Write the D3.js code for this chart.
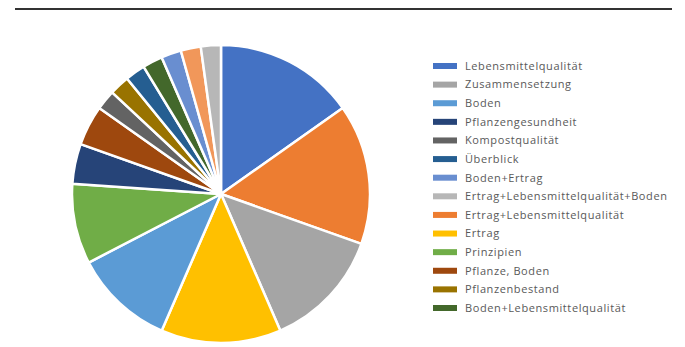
<!DOCTYPE html>
<html>
<head>
<meta charset="utf-8">
<script src="https://cdn.jsdelivr.net/npm/d3@7"></script>
<style>
  html, body { margin: 0; padding: 0; background: #fff; }
  svg { display: block; }
</style>
</head>
<body>
<svg id="chart" width="685" height="347"></svg>
<script>
// Slices in clockwise order starting at 12 o'clock
const sliceLabels = [
  "Lebensmittelqualität", "Ertrag+Lebensmittelqualität", "Zusammensetzung", "Ertrag",
  "Boden", "Prinzipien", "Pflanzengesundheit", "Pflanze, Boden", "Kompostqualität",
  "Pflanzenbestand", "Überblick", "Boden+Lebensmittelqualität", "Boden+Ertrag",
  "(ohne Angabe)", "Ertrag+Lebensmittelqualität+Boden"
];
const sliceValues = [7, 7, 6, 6, 5, 4, 2, 2, 1, 1, 1, 1, 1, 1, 1];
const sliceColors = [
  "#4472C4", "#ED7D31", "#A5A5A5", "#FFC000", "#5B9BD5", "#70AD47",
  "#264478", "#9E480E", "#636363", "#997300", "#255E91", "#43682B",
  "#698ED0", "#F1975A", "#B7B7B7"
];
// Legend order as shown in the reference
const legendLabels = [
  "Lebensmittelqualität", "Zusammensetzung", "Boden", "Pflanzengesundheit",
  "Kompostqualität", "Überblick", "Boden+Ertrag", "Ertrag+Lebensmittelqualität+Boden",
  "Ertrag+Lebensmittelqualität", "Ertrag", "Prinzipien", "Pflanze, Boden",
  "Pflanzenbestand", "Boden+Lebensmittelqualität"
];

const svg = d3.select("#chart");
const color = d3.scaleOrdinal().domain(sliceLabels).range(sliceColors);

// top rule
svg.append("line")
  .attr("x1", 15).attr("x2", 672).attr("y1", 9).attr("y2", 9)
  .attr("stroke", "#333").attr("stroke-width", 2);

const cx = 221, cy = 194, r = 149;
const pie = d3.pie().sort(null).value(d => d.v);
const data = sliceLabels.map((l, i) => ({ label: l, v: sliceValues[i] }));
const arc = d3.arc().innerRadius(0).outerRadius(r);

svg.append("g")
  .attr("transform", `translate(${cx},${cy})`)
  .selectAll("path")
  .data(pie(data))
  .join("path")
  .attr("d", arc)
  .attr("fill", d => color(d.data.label))
  .attr("stroke", "#fff")
  .attr("stroke-width", 2.5)
  .attr("stroke-linejoin", "round");

// legend
const ly = d3.scalePoint().domain(legendLabels).range([66, 308]);
const lg = svg.append("g");
const items = lg.selectAll("g").data(legendLabels).join("g")
  .attr("transform", d => `translate(433,${ly(d)})`);
items.append("rect")
  .attr("x", 0).attr("y", -3).attr("width", 24).attr("height", 6)
  .attr("fill", d => color(d));
items.append("text")
  .attr("x", 32).attr("y", 0).attr("dy", "0.35em")
  .attr("font-family", "Open Sans, sans-serif")
  .attr("font-size", 11)
  .attr("letter-spacing", 0.6)
  .attr("fill", "#595959")
  .text(d => d);
</script>
</body>
</html>
